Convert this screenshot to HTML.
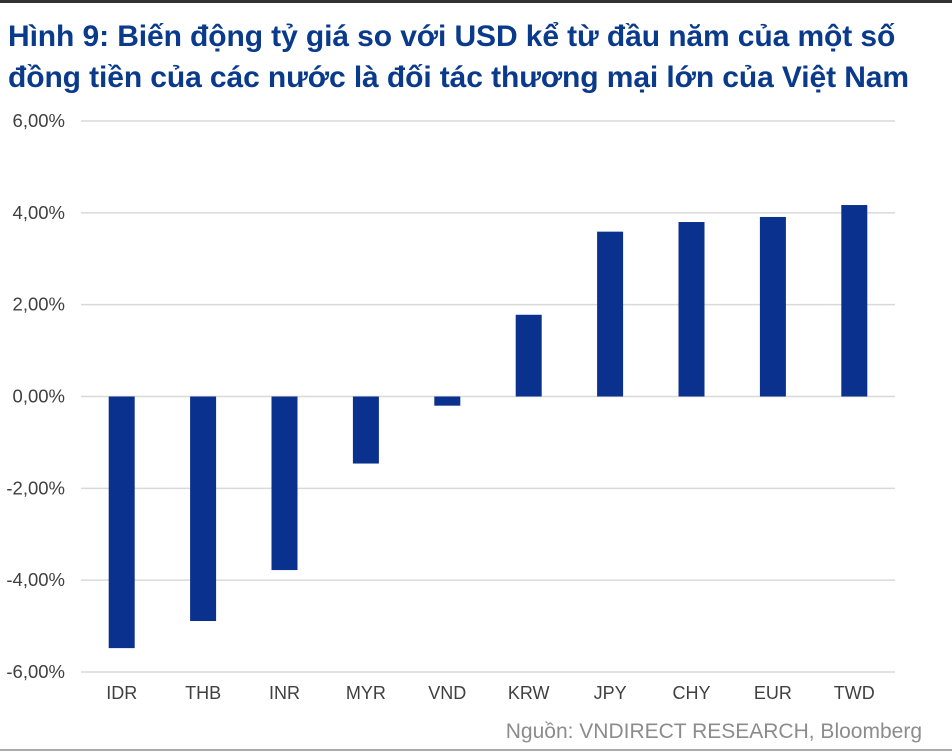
<!DOCTYPE html>
<html><head><meta charset="utf-8"><style>
body{margin:0;background:#fff;}
#wrap{position:relative;width:952px;height:752px;overflow:hidden;font-family:"Liberation Sans",Arial,sans-serif;}
.title{position:absolute;left:8px;top:16px;font-size:30px;font-weight:bold;color:#0a3a8c;line-height:41px;white-space:nowrap;letter-spacing:-0.1px;}
.src{position:absolute;right:30px;top:720px;font-size:21px;color:#8c8c8c;}
</style></head><body>
<div id="wrap">
<div style="position:absolute;left:0;top:0;width:952px;height:3px;background:#333"></div>
<div style="position:absolute;left:0;top:749px;width:952px;height:2px;background:#aaa"></div>
<div class="title">Hình 9: Biến động tỷ giá so với USD kể từ đầu năm của một số<br>đồng tiền của các nước là đối tác thương mại lớn của Việt Nam</div>
<svg id="svg" width="952" height="752" style="position:absolute;left:0;top:0"></svg>
<div class="src">Nguồn: VNDIRECT RESEARCH, Bloomberg</div>
</div>
<script>
const categories=["IDR","THB","INR","MYR","VND","KRW","JPY","CHY","EUR","TWD"];
const values=[-5.48,-4.89,-3.78,-1.46,-0.2,1.78,3.59,3.8,3.91,4.17];
const ticks=[6,4,2,0,-2,-4,-6];
const tickLabels=["6,00%","4,00%","2,00%","0,00%","-2,00%","-4,00%","-6,00%"];
const NS="http://www.w3.org/2000/svg";
const svg=document.getElementById('svg');
const x0=81,x1=895,yTop=121,yBot=672,vMax=6,vMin=-6;
const y=v=>yTop+(vMax-v)/(vMax-vMin)*(yBot-yTop);
const bw=(x1-x0)/categories.length;
const xc=i=>x0+bw*(i+0.5);
function mk(t,a){const e=document.createElementNS(NS,t);for(const k in a)e.setAttribute(k,a[k]);svg.appendChild(e);return e;}
ticks.forEach((t,i)=>{
 const l=mk('line',{x1:x0,x2:x1,y1:y(t),y2:y(t),stroke:'#d9d9d9','stroke-width':1.5});
 
 
 const tx=mk('text',{x:65,y:y(t)+6,'text-anchor':'end','font-size':18.5,fill:'#404040','font-family':'Liberation Sans, Arial, sans-serif'});
 tx.textContent=tickLabels[i];
 
 
});
categories.forEach((c,i)=>{
 const v=values[i];
 const r=mk('rect',{x:xc(i)-13,y:Math.min(y(v),y(0)),width:26,height:Math.abs(y(v)-y(0)),fill:'#0b318f'});
 
 
 const tx=mk('text',{x:xc(i),y:699,'text-anchor':'middle','font-size':18,fill:'#404040','font-family':'Liberation Sans, Arial, sans-serif'});
 tx.textContent=c;
 
 
});
</script>
</body></html>
